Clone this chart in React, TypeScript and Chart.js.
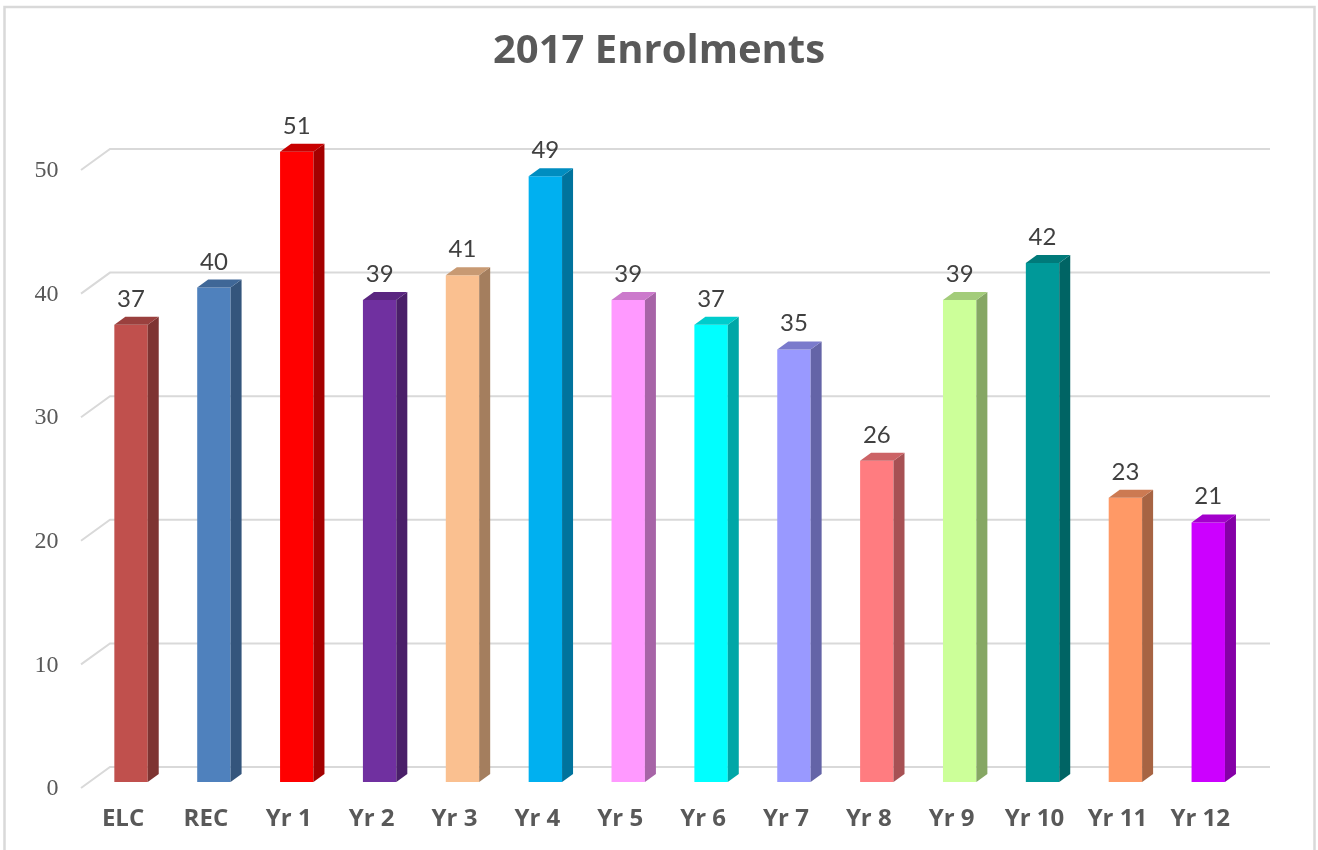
import React, { useEffect, useRef } from "react";
import { Chart, registerables } from "chart.js";

Chart.register(...registerables);

const chartTitle = "2017 Enrolments";
const categories = ["ELC", "REC", "Yr 1", "Yr 2", "Yr 3", "Yr 4", "Yr 5", "Yr 6", "Yr 7", "Yr 8", "Yr 9", "Yr 10", "Yr 11", "Yr 12"];
const enrolments = [37, 40, 51, 39, 41, 49, 39, 37, 35, 26, 39, 42, 23, 21];
const frontColors = ["#C0504D", "#4F81BD", "#FF0000", "#7030A0", "#FAC090", "#00B0F0", "#FF99FF", "#00FFFF", "#9999FF", "#FF7C80", "#CCFF99", "#009999", "#FF9966", "#CC00FF"];
const topColors = ["#9A403E", "#3F6797", "#C80000", "#5A2680", "#C89A73", "#008DC0", "#CC7ACC", "#00CCCC", "#7A7ACC", "#CC6366", "#A3CC7A", "#007A7A", "#CC7A52", "#A300CC"];
const sideColors = ["#7E3432", "#34557C", "#A40000", "#4A1F69", "#A47E5E", "#00739D", "#A764A7", "#00A7A7", "#6464A7", "#A75154", "#86A764", "#006464", "#A76443", "#8500A7"];
const yTicks = [0, 10, 20, 30, 40, 50];

const BAR_DX = 11;
const BAR_DY = 8;

const threeDPlugin = {
  id: "threeD",
  beforeDraw(chart: any) {
    const ctx = chart.ctx;
    ctx.save();
    ctx.strokeStyle = "#D9D9D9";
    ctx.lineWidth = 2.5;
    ctx.strokeRect(4.5, 7, 1310, 900);
    ctx.restore();
  },
  beforeDatasetsDraw(chart: any) {
    const ctx = chart.ctx;
    const ca = chart.chartArea;
    const ys = chart.scales.y;
    ctx.save();
    ctx.strokeStyle = "#D9D9D9";
    ctx.lineWidth = 2;
    yTicks.forEach((v) => {
      const y = ys.getPixelForValue(v);
      ctx.beginPath();
      ctx.moveTo(ca.left - 8.6, y + 6);
      ctx.lineTo(ca.left + 20.4, y - 15);
      ctx.lineTo(ca.right + 20.3, y - 15);
      ctx.stroke();
    });
    ctx.restore();
  },
  afterDatasetsDraw(chart: any) {
    const ctx = chart.ctx;
    const meta = chart.getDatasetMeta(0);
    ctx.save();
    meta.data.forEach((bar: any, i: number) => {
      const p = bar.getProps(["x", "y", "base", "width"], true);
      const l = p.x - p.width / 2;
      const r = p.x + p.width / 2;
      const t = p.y;
      const b = p.base;
      ctx.fillStyle = sideColors[i];
      ctx.beginPath();
      ctx.moveTo(r, t);
      ctx.lineTo(r + BAR_DX, t - BAR_DY);
      ctx.lineTo(r + BAR_DX, b - BAR_DY);
      ctx.lineTo(r, b);
      ctx.closePath();
      ctx.fill();
      ctx.fillStyle = topColors[i];
      ctx.beginPath();
      ctx.moveTo(l, t);
      ctx.lineTo(l + BAR_DX, t - BAR_DY);
      ctx.lineTo(r + BAR_DX, t - BAR_DY);
      ctx.lineTo(r, t);
      ctx.closePath();
      ctx.fill();
      ctx.fillStyle = "#404040";
      ctx.font = "24px Lato";
      ctx.textAlign = "center";
      ctx.textBaseline = "alphabetic";
      ctx.fillText(String(enrolments[i]), p.x, t - 18);
    });
    ctx.restore();
  },
};

export default function App() {
  const ref = useRef<HTMLCanvasElement | null>(null);

  useEffect(() => {
    if (!ref.current) return;
    const chart = new Chart(ref.current, {
      type: "bar",
      data: {
        labels: categories,
        datasets: [
          {
            data: enrolments,
            backgroundColor: frontColors,
            borderWidth: 0,
            categoryPercentage: 1,
            barPercentage: 0.403,
            clip: false as any,
          },
        ],
      },
      options: {
        responsive: false,
        animation: false,
        layout: { padding: { left: 0, right: 0, top: 0, bottom: 0 } },
        plugins: {
          legend: { display: false },
          tooltip: { enabled: false },
          title: {
            display: true,
            text: chartTitle,
            color: "#595959",
            font: { family: "Open Sans", size: 40, weight: "bold", lineHeight: 1.2 },
            padding: { top: 28, bottom: 88 },
          },
        },
        scales: {
          x: {
            grid: { display: false, drawTicks: false },
            border: { display: false },
            ticks: {
              color: "#595959",
              font: { family: "Open Sans", size: 24, weight: "bold" },
              padding: 23,
              labelOffset: -8,
              maxRotation: 0,
              autoSkip: false,
            },
            afterFit: (s: any) => {
              s.height = 68;
            },
          },
          y: {
            min: 0,
            max: 50,
            grid: { display: false, drawTicks: false },
            border: { display: false },
            ticks: {
              stepSize: 10,
              color: "#595959",
              font: { family: "Liberation Serif", size: 24 },
              padding: 31,
              labelOffset: 7,
            },
            afterFit: (s: any) => {
              s.width = 89.6;
            },
          },
          spacer: {
            type: "linear",
            position: "right",
            display: true,
            grid: { display: false, drawTicks: false },
            border: { display: false },
            ticks: { display: false },
            afterFit: (s: any) => {
              s.width = 68.3;
            },
          },
        },
      },
      plugins: [threeDPlugin],
    });
    return () => chart.destroy();
  }, []);

  return (
    <div style={{ position: "fixed", left: 0, top: 0, width: 1318, height: 850, background: "#fff" }}>
      <canvas ref={ref} width={1318} height={850} style={{ display: "block" }} />
    </div>
  );
}
